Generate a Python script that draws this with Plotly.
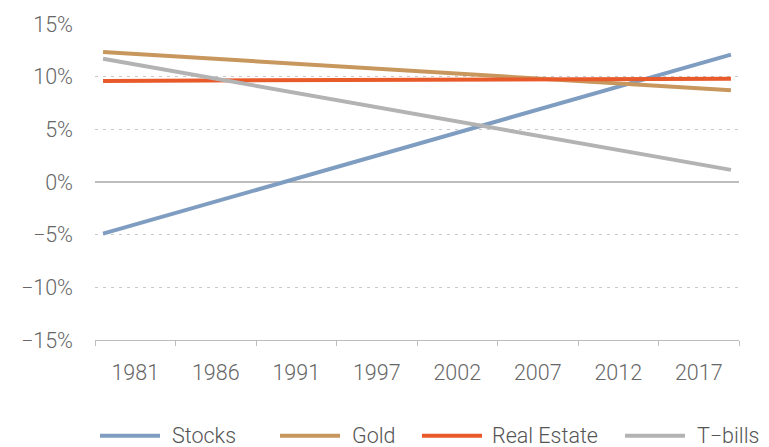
import plotly.graph_objects as go

# ---- data ----
tick_labels = ["1981", "1986", "1991", "1997", "2002", "2007", "2012", "2017"]
series_names = ["Stocks", "Gold", "Real Estate", "T\u2212bills"]
periods = [1, 40]                      # first and last period (annual index)
stocks = [-4.9, 12.1]
gold = [12.35, 8.7]
real_estate = [9.6, 9.8]
tbills = [11.7, 1.15]
y_ticks = [-15, -10, -5, 0, 5, 10, 15]

colors = ["#7f9dc1", "#c8975e", "#e95a2b", "#b3b3b3"]
values = [stocks, gold, real_estate, tbills]

W, H = 769, 447
L, R, T, B = 95, 30, 20, 107
pw, ph = W - L - R, H - T - B
FS = 21.5

fig = go.Figure()
for name, vals, col in zip(series_names, values, colors):
    fig.add_trace(go.Scatter(x=periods, y=vals, mode="lines", name=name,
                             line=dict(color=col, width=4), showlegend=False))

group = 5
tickvals = [group * i + 3 for i in range(len(tick_labels))]
bounds = [group * i + 0.5 for i in range(len(tick_labels) + 1)]

fig.update_layout(
    width=W, height=H,
    margin=dict(l=L, r=R, t=T, b=B),
    paper_bgcolor="white", plot_bgcolor="white",
    font=dict(family="Roboto", size=FS, color="#666666", weight=300),
    xaxis=dict(range=[0.5, 40.5], tickvals=tickvals, ticktext=tick_labels,
               ticks="", showgrid=False, zeroline=False,
               showline=True, linecolor="#bdbdbd", linewidth=1,
               ticklabelstandoff=13,
               minor=dict(tickvals=bounds, ticks="outside", ticklen=5,
                          tickcolor="#bdbdbd", tickwidth=1, showgrid=False)),
    yaxis=dict(range=[-15, 15], tickvals=y_ticks,
               ticktext=[("\u2212" if v < 0 else "") + f"{abs(v)}%" for v in y_ticks],
               showgrid=True, gridcolor="#c8c8c8", griddash="3px,5px", gridwidth=1,
               zeroline=True, zerolinecolor="#bdbdbd", zerolinewidth=1.5,
               ticks="", showline=False, ticklabelstandoff=21),
)

# manual legend (long line swatches like the reference)
legend_px = [(100, 170), (280, 350), (422, 490), (625, 695)]
ly = (H - B - 437) / ph
for (x0, tx), name, col in zip(legend_px, series_names, colors):
    fig.add_shape(type="line", xref="paper", yref="paper",
                  x0=(x0 - L) / pw, x1=(x0 + 60 - L) / pw, y0=ly, y1=ly,
                  line=dict(color=col, width=4))
    fig.add_annotation(xref="paper", yref="paper", x=(tx - L) / pw, y=ly,
                       text=name, showarrow=False, xanchor="left", yanchor="middle",
                       font=dict(size=FS, color="#555555"))

fig.write_html("out.html", config={"displayModeBar": False},
               post_script="document.body.style.margin='0';document.body.style.overflow='hidden';")
